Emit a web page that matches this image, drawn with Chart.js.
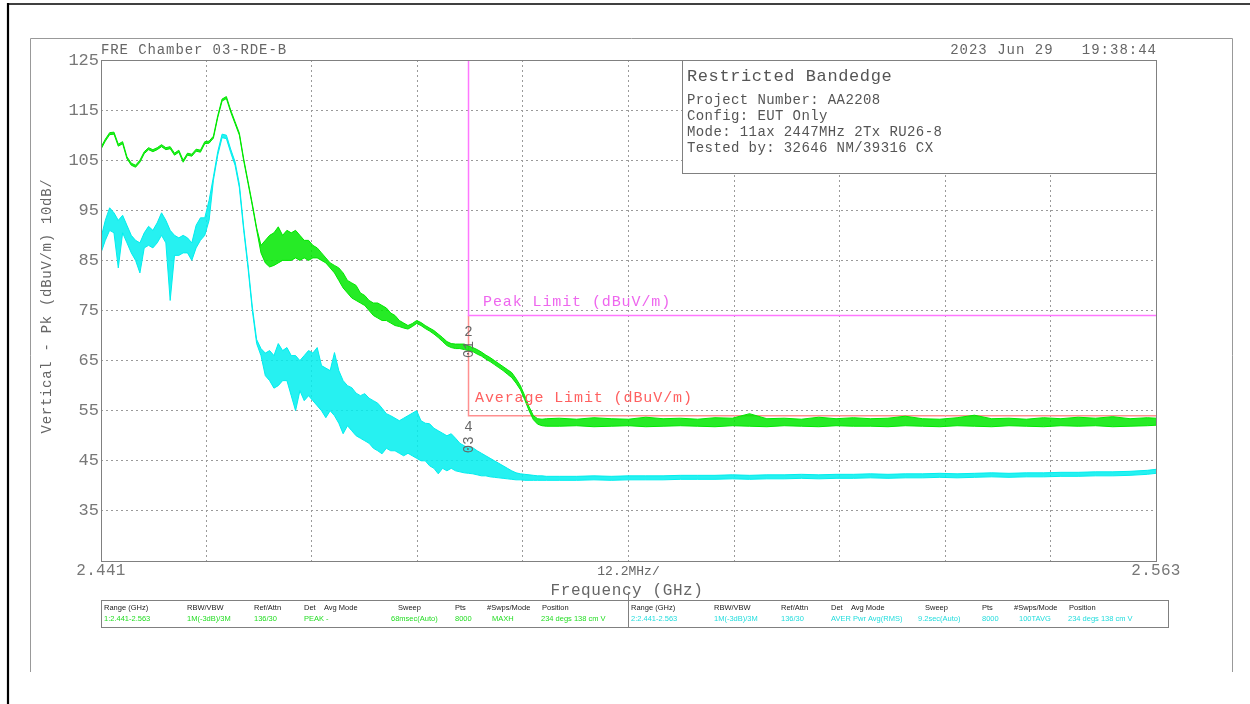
<!DOCTYPE html>
<html>
<head>
<meta charset="utf-8">
<title>Restricted Bandedge</title>
<script src="https://cdn.jsdelivr.net/npm/chart.js@4.4.0/dist/chart.umd.min.js"></script>
<style>
  html, body { margin: 0; padding: 0; background: #fff; }
  #bandChart { display: block; }
</style>
</head>
<body>
<canvas id="bandChart" width="1250" height="704"></canvas>
<script>
// Fréquences (GHz) : pas de 0.5 MHz jusqu'à 2.4925, puis 2 MHz
const freqs = [
  2.4410, 2.4415, 2.4420, 2.4425, 2.4430, 2.4435, 2.4440, 2.4445, 2.4450, 2.4455,
  2.4460, 2.4465, 2.4470, 2.4475, 2.4480, 2.4485, 2.4490, 2.4495, 2.4500, 2.4505,
  2.4510, 2.4515, 2.4520, 2.4525, 2.4530, 2.4535, 2.4540, 2.4545, 2.4550, 2.4555,
  2.4560, 2.4565, 2.4570, 2.4575, 2.4580, 2.4585, 2.4590, 2.4595, 2.4600, 2.4605,
  2.4610, 2.4615, 2.4620, 2.4625, 2.4630, 2.4635, 2.4640, 2.4645, 2.4650, 2.4655,
  2.4660, 2.4665, 2.4670, 2.4675, 2.4680, 2.4685, 2.4690, 2.4695, 2.4700, 2.4705,
  2.4710, 2.4715, 2.4720, 2.4725, 2.4730, 2.4735, 2.4740, 2.4745, 2.4750, 2.4755,
  2.4760, 2.4765, 2.4770, 2.4775, 2.4780, 2.4785, 2.4790, 2.4795, 2.4800, 2.4805,
  2.4810, 2.4815, 2.4820, 2.4825, 2.4830, 2.4835, 2.4840, 2.4845, 2.4850, 2.4855,
  2.4860, 2.4865, 2.4870, 2.4875, 2.4880, 2.4885, 2.4890, 2.4895, 2.4900, 2.4905,
  2.4910, 2.4915, 2.4920, 2.4925,
  2.494, 2.496, 2.498, 2.500, 2.502, 2.504, 2.506, 2.508, 2.510, 2.512,
  2.514, 2.516, 2.518, 2.520, 2.522, 2.524, 2.526, 2.528, 2.530, 2.532,
  2.534, 2.536, 2.538, 2.540, 2.542, 2.544, 2.546, 2.548, 2.550, 2.552,
  2.554, 2.556, 2.558, 2.560, 2.562, 2.563
];

// Trace 1 (PEAK / MAXH) : enveloppe haute et basse en dBuV/m
const peakHi = [
  107.6, 109.2, 110.5, 110.6, 108.2, 108.7, 105.7, 104.4, 104.0, 105.0,
  106.7, 107.5, 107.1, 107.5, 108.1, 107.5, 107.7, 106.4, 107.0, 105.0,
  106.4, 106.2, 107.2, 107.0, 108.7, 108.8, 109.8, 113.9, 117.2, 117.7,
  115.0, 112.7, 110.4, 105.3, 100.8, 96.3, 91.5, 88.0, 89.0, 90.0,
  90.5, 91.7, 90.0, 91.0, 90.5, 91.0, 90.0, 89.0, 89.0, 88.0,
  87.5, 86.5, 85.5, 84.5, 84.0, 83.5, 82.5, 81.0, 80.5, 80.0,
  78.5, 78.0, 77.0, 76.5, 76.5, 76.0, 75.5, 74.5, 74.0, 73.0,
  72.5, 72.0, 72.4, 73.0, 72.6, 72.0, 71.5, 71.0, 70.3, 69.6,
  68.8, 68.4, 68.3, 68.3, 68.3, 67.9, 67.6, 67.2, 66.7, 66.1,
  65.6, 65.0, 64.4, 63.8, 63.2, 62.6, 61.4, 60.0, 58.0, 55.8,
  54.0, 53.4, 53.3, 53.4,
  53.5, 53.3, 53.6, 53.4, 53.3, 53.7, 53.4, 53.5, 53.3, 53.6,
  53.5, 54.4, 53.4, 53.5, 53.3, 53.7, 53.4, 53.6, 53.4, 53.5,
  53.9, 53.4, 53.3, 53.6, 54.1, 53.4, 53.5, 53.3, 53.6, 53.4,
  53.7, 53.5, 53.8, 53.4, 53.6, 53.5
];
const peakLo = [
  107.2, 108.8, 110.1, 110.2, 107.8, 108.3, 105.3, 104.0, 103.6, 104.6,
  106.3, 107.1, 106.7, 107.1, 107.7, 107.1, 107.3, 106.0, 106.6, 104.6,
  106.0, 105.8, 106.8, 106.6, 108.3, 108.4, 109.4, 113.5, 116.8, 117.3,
  114.6, 112.3, 110.0, 104.9, 100.4, 95.9, 91.1, 86.5, 84.5, 83.7,
  84.0, 84.5, 85.0, 85.0, 85.0, 85.5, 85.0, 85.5, 85.0, 85.5,
  85.5, 85.0, 84.5, 83.5, 82.5, 81.0, 79.5, 78.5, 77.5, 77.0,
  76.5, 76.0, 75.0, 74.0, 73.5, 73.0, 73.0, 72.5, 72.0, 71.8,
  71.5, 71.3, 71.8, 72.4, 72.0, 71.4, 70.9, 70.3, 69.6, 68.8,
  68.0, 67.6, 67.4, 67.4, 67.2, 67.0, 66.8, 66.3, 65.9, 65.3,
  64.8, 64.2, 63.6, 63.0, 62.3, 61.6, 60.5, 59.2, 57.2, 55.0,
  53.2, 52.3, 52.0, 51.9,
  51.9, 52.0, 51.8, 51.9, 52.0, 51.8, 51.9, 52.0, 51.9, 51.8,
  52.0, 51.9, 51.8, 52.0, 51.9, 51.8, 52.0, 51.9, 51.9, 51.8,
  52.0, 51.9, 51.8, 52.0, 51.9, 51.8, 52.0, 51.9, 51.8, 52.0,
  51.9, 52.0, 51.8, 51.9, 52.0, 52.1
];

// Trace 2 (AVER / RMS) : enveloppe haute et basse en dBuV/m
const avgHi = [
  89.5, 93.0, 95.5, 94.5, 93.0, 94.0, 92.0, 90.0, 89.0, 88.5,
  90.5, 91.8, 91.0, 92.5, 94.5, 93.0, 91.0, 90.0, 89.5, 90.0,
  89.5, 88.5, 92.0, 93.5, 93.5, 97.0, 101.7, 106.7, 110.2, 110.0,
  107.2, 104.7, 100.2, 91.7, 84.2, 75.7, 69.2, 67.4, 66.5, 67.0,
  66.0, 68.4, 67.0, 67.6, 66.0, 66.0, 65.0, 66.0, 67.0, 66.5,
  67.6, 64.0, 63.5, 63.0, 66.6, 63.0, 61.0, 60.0, 59.6, 58.5,
  58.0, 58.4, 57.5, 57.0, 56.5, 55.5, 54.4, 54.0, 53.5, 53.0,
  53.5, 54.0, 54.5, 55.0, 53.0, 52.5, 52.4, 51.5, 51.0, 50.5,
  50.0, 50.4, 49.5, 48.5, 48.0, 47.6, 47.6, 47.0, 46.5, 46.0,
  45.5, 45.0, 44.5, 44.0, 43.5, 43.0, 42.6, 42.4, 42.3, 42.2,
  42.1, 42.0, 42.0, 41.9,
  41.9, 41.9, 42.0, 41.9, 42.0, 42.0, 42.0, 42.1, 42.1, 42.1,
  42.2, 42.1, 42.2, 42.2, 42.3, 42.2, 42.3, 42.3, 42.4, 42.3,
  42.4, 42.4, 42.5, 42.4, 42.5, 42.6, 42.5, 42.6, 42.6, 42.7,
  42.7, 42.8, 42.8, 42.9, 43.1, 43.3
];
const avgLo = [
  86.5, 89.0, 91.0, 90.5, 83.5, 90.5, 88.5, 86.5, 85.0, 82.5,
  87.5, 88.0, 87.5, 88.5, 90.0, 88.5, 77.0, 86.0, 86.0, 86.5,
  86.5, 85.0, 87.5, 89.0, 90.0, 93.0, 101.0, 106.0, 109.5, 109.3,
  106.5, 104.0, 99.5, 91.0, 83.5, 75.0, 68.4, 66.0, 62.0, 61.0,
  59.5, 60.0, 61.0, 61.0, 58.0, 55.0, 59.0, 57.0, 58.0, 57.0,
  56.0, 55.0, 53.6, 55.0, 54.0, 52.5, 50.4, 52.0, 51.0, 50.0,
  49.5, 49.0, 48.5, 47.5, 47.0, 46.4, 47.5, 47.0, 47.0, 46.5,
  46.0, 46.5, 46.0, 45.5, 45.0, 45.0, 44.0, 43.5, 42.4, 43.5,
  43.0, 43.5, 43.0, 42.8, 42.6, 42.5, 42.4, 42.2, 42.0, 42.0,
  41.8, 41.7, 41.6, 41.5, 41.4, 41.3, 41.2, 41.2, 41.1, 41.1,
  41.1, 41.1, 41.1, 41.1,
  41.1, 41.1, 41.2, 41.1, 41.2, 41.2, 41.2, 41.3, 41.3, 41.3,
  41.4, 41.3, 41.4, 41.4, 41.5, 41.4, 41.5, 41.5, 41.6, 41.5,
  41.6, 41.6, 41.7, 41.6, 41.7, 41.8, 41.7, 41.8, 41.8, 41.9,
  41.9, 42.0, 42.0, 42.1, 42.3, 42.5
];

// Limites
const bandEdge = 2.4835;     // GHz
const peakLimit = 74;        // dBuV/m
const avgLimit = 54;         // dBuV/m
const fMin = 2.441, fMax = 2.563;
const yMin = 25, yMax = 125;

// Graduations
const xGridGHz = [2.441, 2.4532, 2.4654, 2.4776, 2.4898, 2.502, 2.5142, 2.5264, 2.5386, 2.5508, 2.563];
const xTickLabels = ['2.441', '12.2MHz/', '2.563'];

const GREEN = 'rgb(0,232,0)';
const CYAN = 'rgb(0,238,238)';
const MONO = '"Liberation Mono", "DejaVu Sans Mono", monospace';

const pts = (ys) => freqs.map((f, i) => ({ x: f, y: ys[i] }));

// Textes, cadres, tableau
function txt(c, s, x, y, size, color, align, spacing) {
  c.font = size + 'px ' + MONO;
  c.fillStyle = color;
  c.textAlign = align || 'left';
  c.textBaseline = 'alphabetic';
  if ('letterSpacing' in c) c.letterSpacing = (spacing || 0) + 'px';
  c.fillText(s, x, y);
  if ('letterSpacing' in c) c.letterSpacing = '0px';
}

const decorPlugin = {
  id: 'decor',
  beforeDraw(chart) {
    const c = chart.ctx;
    c.save();
    c.fillStyle = '#fff';
    c.fillRect(0, 0, chart.width, chart.height);
    c.restore();
  },
  afterDraw(chart) {
    const c = chart.ctx;
    const a = chart.chartArea;
    const xs = chart.scales.x, ys = chart.scales.y;
    c.save();

    // cadre noir extérieur
    c.strokeStyle = '#000';
    c.lineWidth = 2.2;
    c.beginPath(); c.moveTo(8, 3); c.lineTo(8, 704); c.stroke();
    c.lineWidth = 1.3;
    c.beginPath(); c.moveTo(7, 4); c.lineTo(1250, 4); c.stroke();

    // cadre gris
    c.strokeStyle = '#999';
    c.lineWidth = 1;
    c.beginPath();
    c.moveTo(30.5, 672); c.lineTo(30.5, 38.5); c.lineTo(1232.5, 38.5); c.lineTo(1232.5, 672);
    c.stroke();

    // cadre du tracé
    c.strokeStyle = '#808080';
    c.strokeRect(a.left + 0.5, a.top + 0.5, a.right - a.left, a.bottom - a.top);

    // en-tête
    txt(c, 'FRE Chamber 03-RDE-B', 101, 54, 14, '#666', 'left', 0.9);
    txt(c, '2023 Jun 29   19:38:44', 1157, 54, 14, '#666', 'right', 1.0);

    // boîte d'information
    c.fillStyle = '#fff';
    c.fillRect(682, 60, 474, 114);
    c.strokeStyle = '#808080';
    c.strokeRect(682.5, 60.5, 474, 113);
    txt(c, 'Restricted Bandedge', 687, 81, 17, '#555', 'left', 0.6);
    const info = ['Project Number: AA2208', 'Config: EUT Only', 'Mode: 11ax 2447MHz 2Tx RU26-8', 'Tested by: 32646 NM/39316 CX'];
    info.forEach((s, i) => txt(c, s, 687, 104 + i * 16, 14, '#555', 'left', 0.4));

    // étiquettes des limites
    txt(c, 'Peak Limit (dBuV/m)', 483, 306, 15, '#ee66ee', 'left', 0.9);
    txt(c, 'Average Limit (dBuV/m)', 475, 402, 15, '#ff6060', 'left', 0.9);

    // marqueurs
    const mx = xs.getPixelForValue(bandEdge);
    const markers = [['2', '01', 68], ['4', '03', 49]];
    markers.forEach(([top, rot, v]) => {
      const py = ys.getPixelForValue(v);
      txt(c, top, mx, py - 10, 14, '#666', 'center', 0);
      c.save();
      c.translate(mx + 4, py + 4);
      c.rotate(-Math.PI / 2);
      txt(c, rot, 0, 0, 14, '#666', 'center', 0);
      c.restore();
    });

    // axe X
    txt(c, xTickLabels[0], xs.getPixelForValue(fMin), 575, 16, '#777', 'center', 0.3);
    txt(c, xTickLabels[1], xs.getPixelForValue((fMin + fMax) / 2), 575, 13, '#666', 'center', 0);
    txt(c, xTickLabels[2], xs.getPixelForValue(fMax), 575, 16, '#777', 'center', 0.3);
    txt(c, 'Frequency (GHz)', 627, 595, 16, '#666', 'center', 0.6);

    // titre axe Y
    c.save();
    c.translate(51, 306);
    c.rotate(-Math.PI / 2);
    txt(c, 'Vertical - Pk (dBuV/m) 10dB/', 0, 0, 14, '#666', 'center', 0.7);
    c.restore();

    // tableau des réglages
    c.strokeStyle = '#808080';
    c.strokeRect(101.5, 600.5, 1067, 27);
    c.beginPath(); c.moveTo(628.5, 600); c.lineTo(628.5, 628); c.stroke();
    c.beginPath(); c.moveTo(628.5, 592); c.lineTo(628.5, 600); c.stroke();
    const heads = ['Range (GHz)', 'RBW/VBW', 'Ref/Attn', 'Det', 'Avg Mode', 'Sweep', 'Pts', '#Swps/Mode', 'Position'];
    const headX = [3, 86, 153, 203, 223, 297, 354, 386, 441];
    const rows = [
      { x0: 101, color: '#22dd22', vals: ['1:2.441-2.563', '1M(-3dB)/3M', '136/30', 'PEAK', '-', '68msec(Auto)', '8000', 'MAXH', '234 degs 138 cm V'] },
      { x0: 628, color: '#22dddd', vals: ['2:2.441-2.563', '1M(-3dB)/3M', '136/30', 'AVER', 'Pwr Avg(RMS)', '9.2sec(Auto)', '8000', '100TAVG', '234 degs 138 cm V'] }
    ];
    const valX = [3, 86, 153, 203, 225, 290, 354, 391, 440];
    c.font = '7.5px "Liberation Sans", sans-serif';
    c.textAlign = 'left';
    rows.forEach(r => {
      c.fillStyle = '#222';
      heads.forEach((h, i) => c.fillText(h, r.x0 + headX[i], 610));
      c.fillStyle = r.color;
      r.vals.forEach((v, i) => c.fillText(v, r.x0 + valX[i], 621));
    });

    c.restore();
  }
};

const ctx = document.getElementById('bandChart').getContext('2d');

const chart = new Chart(ctx, {
  type: 'line',
  data: {
    datasets: [
      { label: 'Pk haut', data: pts(peakHi), borderColor: GREEN, borderWidth: 1, fill: false, order: 1 },
      { label: 'Pk bas', data: pts(peakLo), borderColor: GREEN, backgroundColor: 'rgba(0,232,0,0.85)', borderWidth: 1, fill: '-1', order: 1 },
      { label: 'Av haut', data: pts(avgHi), borderColor: CYAN, borderWidth: 1, fill: false, order: 2 },
      { label: 'Av bas', data: pts(avgLo), borderColor: CYAN, backgroundColor: 'rgba(0,238,238,0.85)', borderWidth: 1, fill: '-1', order: 2 },
      { label: 'Peak Limit', data: [{ x: bandEdge, y: yMax }, { x: bandEdge, y: peakLimit }, { x: fMax, y: peakLimit }],
        borderColor: '#ff77ff', borderWidth: 1.5, fill: false, order: 5 },
      { label: 'Average Limit', data: [{ x: bandEdge, y: peakLimit }, { x: bandEdge, y: avgLimit }, { x: fMax, y: avgLimit }],
        borderColor: '#ff9090', borderWidth: 1.5, fill: false, order: 5 }
    ]
  },
  options: {
    responsive: false,
    animation: false,
    devicePixelRatio: 1,
    layout: { padding: { left: 0, top: 60, right: 94, bottom: 0 } },
    elements: { point: { radius: 0 }, line: { tension: 0 } },
    plugins: { legend: { display: false }, tooltip: { enabled: false } },
    scales: {
      x: {
        type: 'linear',
        min: fMin,
        max: fMax,
        afterBuildTicks: s => { s.ticks = xGridGHz.map(v => ({ value: v })); },
        afterFit: s => { s.height = 143; s.paddingLeft = 0; s.paddingRight = 0; },
        ticks: { display: false },
        grid: { color: '#9a9a9a', lineWidth: 1, drawTicks: false },
        border: { display: false, dash: [2, 3] }
      },
      y: {
        min: yMin,
        max: yMax,
        afterFit: s => { s.width = 101; s.paddingTop = 0; s.paddingBottom = 0; },
        ticks: {
          stepSize: 10,
          padding: 2,
          color: '#777',
          font: { family: MONO, size: 17 },
          callback: v => (v === yMin ? '' : String(v))
        },
        grid: { color: '#9a9a9a', lineWidth: 1, drawTicks: false },
        border: { display: false, dash: [2, 3] }
      }
    }
  },
  plugins: [decorPlugin]
});
</script>
</body>
</html>
